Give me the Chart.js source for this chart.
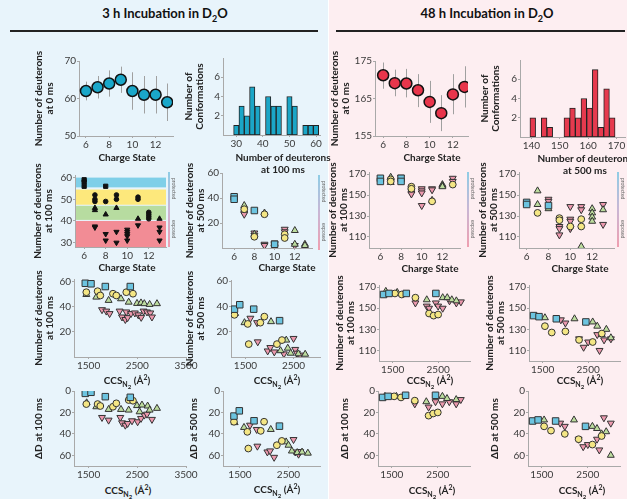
<!DOCTYPE html>
<html>
<head>
<meta charset="utf-8">
<script src="https://cdn.jsdelivr.net/npm/chart.js@4.4.1/dist/chart.umd.min.js"></script>
<style>
body { margin: 0; background: #fff; font-family: Lato, sans-serif; }
#fig { position: relative; width: 627px; height: 499px; overflow: hidden; }
.panel { position: absolute; top: 0; height: 499px; }
canvas { position: absolute; }
.head { position: absolute; top: 5px; font: bold 13px Lato; color: #111; transform: translateX(-50%); white-space: nowrap; }
.rule { position: absolute; top: 30px; height: 1.5px; background: #222; }
.xt { position: absolute; font: bold 10px Lato; color: #222; text-align: center; line-height: 12px; transform: translateX(-50%); white-space: nowrap; }
.ind { position: absolute; width: 2px; background: linear-gradient(#8fcde6, #c9b6d4 50%, #ef9fb0); }
.indt { position: absolute; font: 5px Lato; color: #666; writing-mode: vertical-rl; white-space: nowrap; }
</style>
</head>
<body>
<div id="fig">
  <div class="panel" style="left:0;width:328px;background:#e8f4fb"></div>
  <div class="panel" style="left:329px;width:298px;background:#fdeef1"></div>
  <div class="head" style="left:165px">3 h Incubation in D<sub style="font-size:9px">2</sub>O</div>
  <div class="head" style="left:487px">48 h Incubation in D<sub style="font-size:9px">2</sub>O</div>
  <div class="rule" style="left:10px;width:308px"></div>
  <div class="rule" style="left:336px;width:289px"></div>
</div>
<script>
// ---- data ----
var charge = [6, 7, 8, 9, 10, 11, 12, 13];
var chargeTicks = [6, 8, 10, 12];
var ccsTicks = [1500, 2500, 3500];

// number of deuterons at 0 ms (mean, error bar low/high)
var d0Mean3h = [62, 63, 64, 65, 62, 61, 61, 59];
var d0Low3h = [59.5, 60, 60.5, 61.5, 57, 56, 56, 54];
var d0High3h = [64.5, 66, 67.5, 68.5, 67, 66, 66, 64];
var d0Mean48h = [171.2, 169.1, 169, 167.2, 164.1, 161.1, 166.1, 168.1];
var d0Low48h = [167.6, 165.6, 165.3, 162.7, 158.5, 156.3, 160.8, 162.6];
var d0High48h = [174.6, 172.7, 172.9, 171.5, 169.7, 165.9, 171.5, 173.6];

// histograms
var bins3h = [30, 32, 34, 36, 38, 40, 42, 44, 46, 48, 50, 52, 54, 56, 58, 60];
var counts3h = [1, 3, 2, 5, 3, 0, 4, 3, 3, 0, 4, 3, 0, 1, 1, 1];
var bins48h = [140.5, 142.5, 144.5, 146.5, 148.5, 150.5, 152.5, 154.5, 156.5, 158.5, 160.5, 162.5, 164.5, 166.5, 168.5];
var counts48h = [2, 0, 2, 1, 0, 0, 2, 3, 2, 4, 3, 7, 1, 5, 2];

// 3 h, 100 ms vs charge state (black markers on coloured bands)
var bandLow = [55.5, 47.5, 40.5, 28];
var bandHigh = [60, 54.5, 47, 40];
var bandColors = ['#7fcfe8', '#fde87c', '#b7dca0', '#f28c95'];
var z100Sq = [[6, 59], [6, 58], [6, 56], [8, 56]];
var z100Circ = [[7, 52], [7, 50], [7, 49], [8, 49], [9, 52], [9, 50], [11, 51], [11, 50], [12, 44], [12, 43], [12, 42], [12, 41]];
var z100Tri = [[7, 46], [7, 45], [8, 43], [9, 46], [11, 41], [13, 41]];
var z100Down = [[7, 37.5], [7, 37], [8, 34], [8, 31], [9, 35], [9, 30], [10, 36], [10, 35], [10, 34], [10, 33], [10, 31], [11, 38], [13, 37], [13, 35], [13, 31]];

// 3 h, 500 ms vs charge state
var z3h500Blue = [[6, 41], [6, 39], [8, 30], [10, 3]];
var z3h500Yellow = [[7, 31], [8, 9], [9, 27], [10, 2], [11, 11], [11, 8]];
var z3h500Green = [[7, 34], [8, 11], [9, 28], [12, 14], [12, 3], [13, 3], [13, 2]];
var z3h500Pink = [[7, 28], [7, 27], [8, 12], [8, 10], [9, 3], [9, 2], [10, 4], [10, 3], [11, 15], [11, 13], [12, 2]];

// 48 h, 100 ms vs charge state
var z48h100Blue = [[6, 166], [6, 163], [8, 166], [8, 163]];
var z48h100Yellow = [[7, 165], [7, 163], [9, 158], [9, 156], [11, 144], [13, 160]];
var z48h100Green = [[7, 167], [7, 162], [11, 145], [12, 160], [12, 159], [12, 158]];
var z48h100Pink = [[8, 167], [9, 154], [9, 152], [9, 151], [10, 156], [10, 154], [10, 152], [10, 140], [11, 156], [11, 155], [13, 166], [13, 163]];

// 48 h, 500 ms vs charge state
var z48h500Blue = [[6, 143], [6, 141], [8, 140]];
var z48h500Yellow = [[7, 133], [9, 128], [9, 126], [10, 120], [11, 127], [11, 120]];
var z48h500Green = [[7, 154], [7, 141], [8, 137], [11, 101], [12, 137], [12, 133], [12, 129], [12, 125], [13, 136]];
var z48h500Pink = [[8, 146], [8, 144], [9, 120], [9, 118], [9, 112], [10, 139], [10, 127], [10, 125], [10, 118], [11, 139], [11, 136], [13, 141], [13, 122]];

// 3 h vs CCS
var c3h100Blue = [[1432, 58.6], [1549, 58.2], [1843, 56], [2356, 56]];
var c3h100Yellow = [[1453, 51.5], [1685, 52.3], [1740, 48.9], [2000, 50.3], [2069, 48.9], [2274, 51.5], [2411, 50.3]];
var c3h100Green = [[1453, 49.7], [1658, 47.6], [1911, 45], [2165, 46.3], [2323, 43.6], [2494, 42.6], [2576, 43], [2644, 42.4], [2753, 41.8], [2904, 42.4]];
var c3h100Pink = [[1775, 37.6], [1863, 36.5], [1931, 34.5], [2137, 36.5], [2186, 31.8], [2254, 29.8], [2301, 31.3], [2274, 35.8], [2370, 34.5], [2450, 35], [2520, 33.5], [2580, 31.5], [2629, 36.5], [2699, 35.8], [2767, 35], [2801, 31.8]];

var c3h500Blue = [[1272, 37.9], [1382, 41.4], [1672, 37.9], [2210, 28.8]];
var c3h500Yellow = [[1272, 33.4], [1548, 26.2], [1810, 27.2], [1893, 32], [1569, 10.2], [2155, 10.2], [2259, 13.4]];
var c3h500Green = [[1285, 34.5], [1480, 27.2], [2032, 28], [2349, 13.4], [2230, 5], [2380, 7], [2440, 3], [2600, 2.5], [2742, 2.2]];
var c3h500Pink = [[1603, 30.7], [1742, 27.2], [1756, 12], [1962, 4.8], [2017, 7.5], [2100, 4], [2500, 14.7], [2535, 6], [2570, 3], [2640, 1.5], [2300, 2.5]];

var dd3h100Blue = [[1432, 2.2], [1549, 1.2], [1843, 5.3], [2356, 5.9]];
var dd3h100Yellow = [[1453, 12.2], [1685, 12.2], [1740, 14], [2000, 14.7], [2069, 11.5], [2323, 8.4], [2411, 9.1]];
var dd3h100Green = [[1460, 11], [1658, 14.7], [1911, 17.2], [2165, 17.2], [2323, 17.8], [2494, 13.6], [2547, 19.4], [2596, 13.1], [2712, 14], [2753, 17.8], [2904, 16.2]];
var dd3h100Pink = [[1775, 24.7], [1911, 27.2], [2151, 24.7], [2186, 29.7], [2254, 31.9], [2301, 30.3], [2391, 27.8], [2506, 28.7], [2576, 25.6], [2644, 22.5], [2699, 21.6], [2801, 26.5]];

var dd3h500Blue = [[1376, 23.4], [1486, 18.5], [1790, 27.8], [2314, 32.8]];
var dd3h500Yellow = [[1376, 28.7], [1652, 38.1], [1928, 37.2], [1997, 28.7], [1672, 53.7], [2260, 50.6], [2363, 46.6]];
var dd3h500Green = [[1390, 29.5], [1583, 34], [2135, 35.9], [2452, 47.5], [2500, 50.6], [2570, 56], [2680, 57.5], [2780, 57], [2900, 58]];
var dd3h500Pink = [[1707, 31.9], [1845, 35.9], [1859, 51.5], [2065, 56.9], [2121, 55.9], [2204, 61.9], [2604, 45.3], [2639, 56.9], [2708, 59], [2740, 56.5]];

// 48 h vs CCS
var c48h100Blue = [[1300, 163], [1420, 164], [1800, 164], [2450, 164]];
var c48h100Yellow = [[1550, 164], [1700, 163], [2000, 160], [2300, 145], [2400, 143], [2500, 144]];
var c48h100Green = [[1350, 166], [1600, 165], [2250, 158], [2600, 160], [2700, 160], [2800, 158], [2900, 157]];
var c48h100Pink = [[2000, 155], [2250, 152], [2300, 150], [2450, 155], [2500, 152], [2600, 150], [2750, 157], [2900, 155], [3000, 156]];

var c48h500Blue = [[1300, 143], [1420, 142], [1800, 140], [2450, 137]];
var c48h500Yellow = [[1550, 133], [1700, 127], [2000, 128], [2300, 120], [2600, 118], [2800, 126]];
var c48h500Green = [[1550, 141], [2200, 140], [2600, 137], [2700, 133], [2800, 125], [2900, 130], [3000, 122]];
var c48h500Pink = [[1900, 139], [2000, 136], [2300, 121], [2400, 113], [2500, 118], [2700, 125], [2750, 110], [2850, 120], [3000, 121]];

var dd48h100Blue = [[1300, 6], [1420, 5], [1800, 4], [2450, 4]];
var dd48h100Yellow = [[1550, 5], [1700, 6], [2000, 9], [2300, 23], [2400, 21], [2500, 20]];
var dd48h100Green = [[1350, 5], [1600, 5], [2250, 10], [2600, 5], [2700, 7], [2900, 8]];
var dd48h100Pink = [[2000, 12], [2300, 15], [2450, 10], [2600, 12], [2750, 10], [2900, 12], [3000, 8]];

var dd48h500Blue = [[1300, 28], [1420, 27], [1800, 28], [2450, 33]];
var dd48h500Yellow = [[1550, 33], [1700, 37], [2000, 40], [2300, 45], [2600, 50], [2800, 42]];
var dd48h500Green = [[1550, 27], [2200, 27], [2600, 33], [2700, 35], [2800, 40], [2900, 38], [3000, 60]];
var dd48h500Pink = [[1900, 30], [2000, 33], [2300, 45], [2400, 52], [2500, 50], [2700, 45], [2750, 55], [2850, 25], [3000, 30]];

// ---- drawing ----
var fig = document.getElementById('fig');
var PT = 14, PR = 18, XH = 15;
var AXIS = '#a9a9a9', TICK = '#3a3a3a';
var BLUE = '#6cc4e0', YELLOW = '#f4e684', GREEN = '#bcdc9e', PINK = '#ec99ae';

function place(plot, yw) {
  var c = document.createElement('canvas');
  var w = Math.round(plot[2] - plot[0] + yw + PR);
  var h = Math.round(plot[3] - plot[1] + PT + XH);
  c.width = w; c.height = h;
  c.style.left = Math.round(plot[0] - yw) + 'px';
  c.style.top = Math.round(plot[1] - PT) + 'px';
  c.style.width = w + 'px'; c.style.height = h + 'px';
  fig.appendChild(c);
  return c;
}

function keep(ticks, min, max) {
  return ticks.filter(function(v) { return v >= min && v <= max; }).map(function(v) { return {value: v}; });
}

function scaleX(min, max, ticks) {
  return {
    type: 'linear', min: min, max: max, offset: false,
    afterBuildTicks: function(s) { s.ticks = keep(ticks, min, max); },
    afterFit: function(s) { s.height = XH; },
    border: {color: AXIS},
    grid: {drawOnChartArea: false, tickLength: 2, color: AXIS, offset: false},
    ticks: {color: TICK, font: {family: 'Lato', size: 10}, padding: 1, maxRotation: 0, autoSkip: false,
      callback: function(v) { return String(v); }}
  };
}

function scaleY(min, max, ticks, yw, title, rev) {
  return {
    type: 'linear', min: min, max: max, reverse: !!rev,
    afterBuildTicks: function(s) { s.ticks = keep(ticks, min, max); },
    afterFit: function(s) { s.width = yw; },
    border: {color: AXIS},
    grid: {drawOnChartArea: false, tickLength: 2, color: AXIS},
    ticks: {color: TICK, font: {family: 'Lato', size: 10}, padding: 1, callback: function(v) { return String(v); }},
    title: {display: true, text: title, color: '#222', font: {family: 'Lato', size: 10, weight: 'bold', lineHeight: 1.15}, padding: 0}
  };
}

function draw(plot, yw, type, datasets, sx, sy, plugins) {
  var c = place(plot, yw);
  new Chart(c, {
    type: type,
    data: {datasets: datasets},
    options: {
      responsive: false, animation: false,
      layout: {padding: {top: PT, right: PR, left: 0, bottom: 0}},
      plugins: {legend: {display: false}, tooltip: {enabled: false}},
      scales: {x: sx, y: sy}
    },
    plugins: plugins || []
  });
}

function pts(pairs) { return pairs.map(function(p) { return {x: p[0], y: p[1]}; }); }

function marker(pairs, fill, style, rot, r, edge) {
  return {data: pts(pairs), pointBackgroundColor: fill, pointBorderColor: edge || '#333', pointBorderWidth: 1,
    pointStyle: style, pointRotation: rot, pointRadius: r};
}

function groups(blue, yellow, green, pink) {
  return [
    marker(blue, BLUE, 'rect', 0, 4.6),
    marker(yellow, YELLOW, 'circle', 0, 3.4),
    marker(green, GREEN, 'triangle', 0, 4),
    marker(pink, PINK, 'triangle', 180, 4)
  ];
}

function meanSet(mean, fill) {
  return {data: charge.map(function(z, i) { return {x: z, y: mean[i]}; }), pointBackgroundColor: fill,
    pointBorderColor: '#111', pointBorderWidth: 1.5, pointRadius: 5.5};
}

function histSet(bins, counts, fill) {
  var d = [];
  bins.forEach(function(b, i) { if (counts[i] > 0) d.push({x: b, y: counts[i]}); });
  return {data: d, backgroundColor: fill, borderColor: '#222', borderWidth: 1, borderSkipped: false,
    barPercentage: 1, categoryPercentage: 1};
}

function errorBars(lo, hi) {
  return {
    id: 'errorBars',
    beforeDatasetsDraw: function(chart) {
      var ctx = chart.ctx, x = chart.scales.x, y = chart.scales.y;
      ctx.save(); ctx.strokeStyle = '#a0a0a0'; ctx.lineWidth = 1;
      charge.forEach(function(z, i) {
        var px = Math.round(x.getPixelForValue(z)) + 0.5;
        ctx.beginPath();
        ctx.moveTo(px, y.getPixelForValue(lo[i]));
        ctx.lineTo(px, y.getPixelForValue(hi[i]));
        ctx.stroke();
      });
      ctx.restore();
    }
  };
}

var bands = {
  id: 'bands',
  beforeDatasetsDraw: function(chart) {
    var ctx = chart.ctx, a = chart.chartArea, y = chart.scales.y;
    bandLow.forEach(function(lo, i) {
      var top = y.getPixelForValue(bandHigh[i]), bot = y.getPixelForValue(lo);
      ctx.fillStyle = bandColors[i];
      ctx.fillRect(a.left + 1, top, a.right - a.left - 1, bot - top);
    });
  }
};

var t0 = function(ms) { return ['Number of deuterons', 'at ' + ms + ' ms']; };
var conf = ['Number of', 'Conformations'];

// row 1
draw([79, 61, 173, 136], 46, 'scatter', [meanSet(d0Mean3h, '#1aa7c9')],
  scaleX(5.4, 13.5, chargeTicks), scaleY(50, 70, [50, 60, 70], 46, t0(0)), [errorBars(d0Low3h, d0High3h)]);
draw([223, 58, 320, 135], 40, 'bar', [histSet(bins3h, counts3h, '#1ba6c7')],
  scaleX(25, 61.5, [30, 40, 50, 60]), scaleY(0, 8, [2, 4, 6], 40, conf));
draw([375, 61, 468, 136], 46, 'scatter', [meanSet(d0Mean48h, '#e8354b')],
  scaleX(5.3, 13.3, chargeTicks), scaleY(155, 175, [155, 165, 175], 46, t0(0)), [errorBars(d0Low48h, d0High48h)]);
draw([520, 60, 625, 137], 41, 'bar', [histSet(bins48h, counts48h, '#e63a4e')],
  scaleX(136, 173, [140, 150, 160, 170]), scaleY(0, 8, [2, 4, 6], 41, conf));

// row 2
draw([75, 175, 166, 247], 43, 'scatter', [
    marker(z100Sq, '#111', 'rect', 0, 3, '#111'),
    marker(z100Circ, '#111', 'circle', 0, 2.3, '#111'),
    marker(z100Tri, '#111', 'triangle', 0, 3, '#111'),
    marker(z100Down, '#111', 'triangle', 180, 3, '#111')],
  scaleX(5.15, 13.6, chargeTicks), scaleY(28, 61.2, [30, 40, 50, 60], 43, t0(100)), [bands]);
draw([222, 173, 312, 248], 38, 'scatter', groups(z3h500Blue, z3h500Yellow, z3h500Green, z3h500Pink),
  scaleX(4.8, 13.7, chargeTicks), scaleY(0, 60, [20, 40, 60], 38, t0(500)));
draw([369, 172, 460, 248], 42, 'scatter', groups(z48h100Blue, z48h100Yellow, z48h100Green, z48h100Pink),
  scaleX(4.9, 13.7, chargeTicks), scaleY(99.5, 172, [110, 130, 150, 170], 42, t0(100)));
draw([519, 172, 614, 248], 42, 'scatter', groups(z48h500Blue, z48h500Yellow, z48h500Green, z48h500Pink),
  scaleX(5.3, 14, chargeTicks), scaleY(99.5, 172, [110, 130, 150, 170], 42, t0(500)));

// row 3
draw([74, 279, 186, 357], 41, 'scatter', groups(c3h100Blue, c3h100Yellow, c3h100Green, c3h100Pink),
  scaleX(1200, 3500, ccsTicks), scaleY(0, 62, [20, 40, 60], 41, t0(100)));
draw([231, 280, 320, 357], 47, 'scatter', groups(c3h500Blue, c3h500Yellow, c3h500Green, c3h500Pink),
  scaleX(1200, 3050, ccsTicks), scaleY(0, 61, [20, 40, 60], 47, t0(500)));
draw([379, 285, 470, 361], 45, 'scatter', groups(c48h100Blue, c48h100Yellow, c48h100Green, c48h100Pink),
  scaleX(1200, 3200, ccsTicks), scaleY(100, 172, [110, 130, 150, 170], 45, t0(100)));
draw([529, 285, 620, 361], 45, 'scatter', groups(c48h500Blue, c48h500Yellow, c48h500Green, c48h500Pink),
  scaleX(1200, 3200, ccsTicks), scaleY(100, 172, [110, 130, 150, 170], 45, t0(500)));

// row 4
draw([74, 391, 186, 466], 41, 'scatter', groups(dd3h100Blue, dd3h100Yellow, dd3h100Green, dd3h100Pink),
  scaleX(1200, 3500, ccsTicks), scaleY(0, 70, [0, 20, 40, 60], 41, 'ΔD at 100 ms', true));
draw([223, 391, 320, 466], 35, 'scatter', groups(dd3h500Blue, dd3h500Yellow, dd3h500Green, dd3h500Pink),
  scaleX(1150, 3150, ccsTicks), scaleY(0, 70, [0, 20, 40, 60], 35, 'ΔD at 500 ms', true));
draw([378, 391, 470, 466], 39, 'scatter', groups(dd48h100Blue, dd48h100Yellow, dd48h100Green, dd48h100Pink),
  scaleX(1200, 3200, ccsTicks), scaleY(0, 70, [0, 20, 40, 60], 39, 'ΔD at 100 ms', true));
draw([528, 391, 620, 466], 39, 'scatter', groups(dd48h500Blue, dd48h500Yellow, dd48h500Green, dd48h500Pink),
  scaleX(1200, 3200, ccsTicks), scaleY(0, 70, [0, 20, 40, 60], 39, 'ΔD at 500 ms', true));

// x axis titles
var ccs = 'CCS<sub style="font-size:7px">N<sub style="font-size:6px">2</sub></sub> (Å<sup style="font-size:7px">2</sup>)';
var xTitles = [
  [127, 151, 'Charge State'], [283, 151, 'Number of deuterons<br>at 100 ms'],
  [432, 151, 'Charge State'], [585, 152, 'Number of deuterons<br>at 500 ms'],
  [127, 261, 'Charge State'], [287, 261, 'Charge State'], [430, 262, 'Charge State'], [580, 262, 'Charge State'],
  [127, 371, ccs], [277, 371, ccs], [430, 371, ccs], [580, 371, ccs],
  [128, 481, ccs], [277, 480, ccs], [432, 481, ccs], [582, 481, ccs]
];
xTitles.forEach(function(t) {
  var d = document.createElement('div');
  d.className = 'xt'; d.style.left = t[0] + 'px'; d.style.top = t[1] + 'px'; d.innerHTML = t[2];
  fig.appendChild(d);
});

// protected / exposed markers next to the band plots
[[168, 172], [318, 175], [467, 172], [617, 172]].forEach(function(p) {
  var l = document.createElement('div');
  l.className = 'ind'; l.style.left = p[0] + 'px'; l.style.top = p[1] + 'px'; l.style.height = '75px';
  fig.appendChild(l);
  ['protected', 'exposed'].forEach(function(s, i) {
    var t = document.createElement('div');
    t.className = 'indt'; t.textContent = s;
    t.style.left = (p[0] + 3) + 'px'; t.style.top = (p[1] + (i ? 48 : 6)) + 'px';
    fig.appendChild(t);
  });
});
</script>
</body>
</html>
